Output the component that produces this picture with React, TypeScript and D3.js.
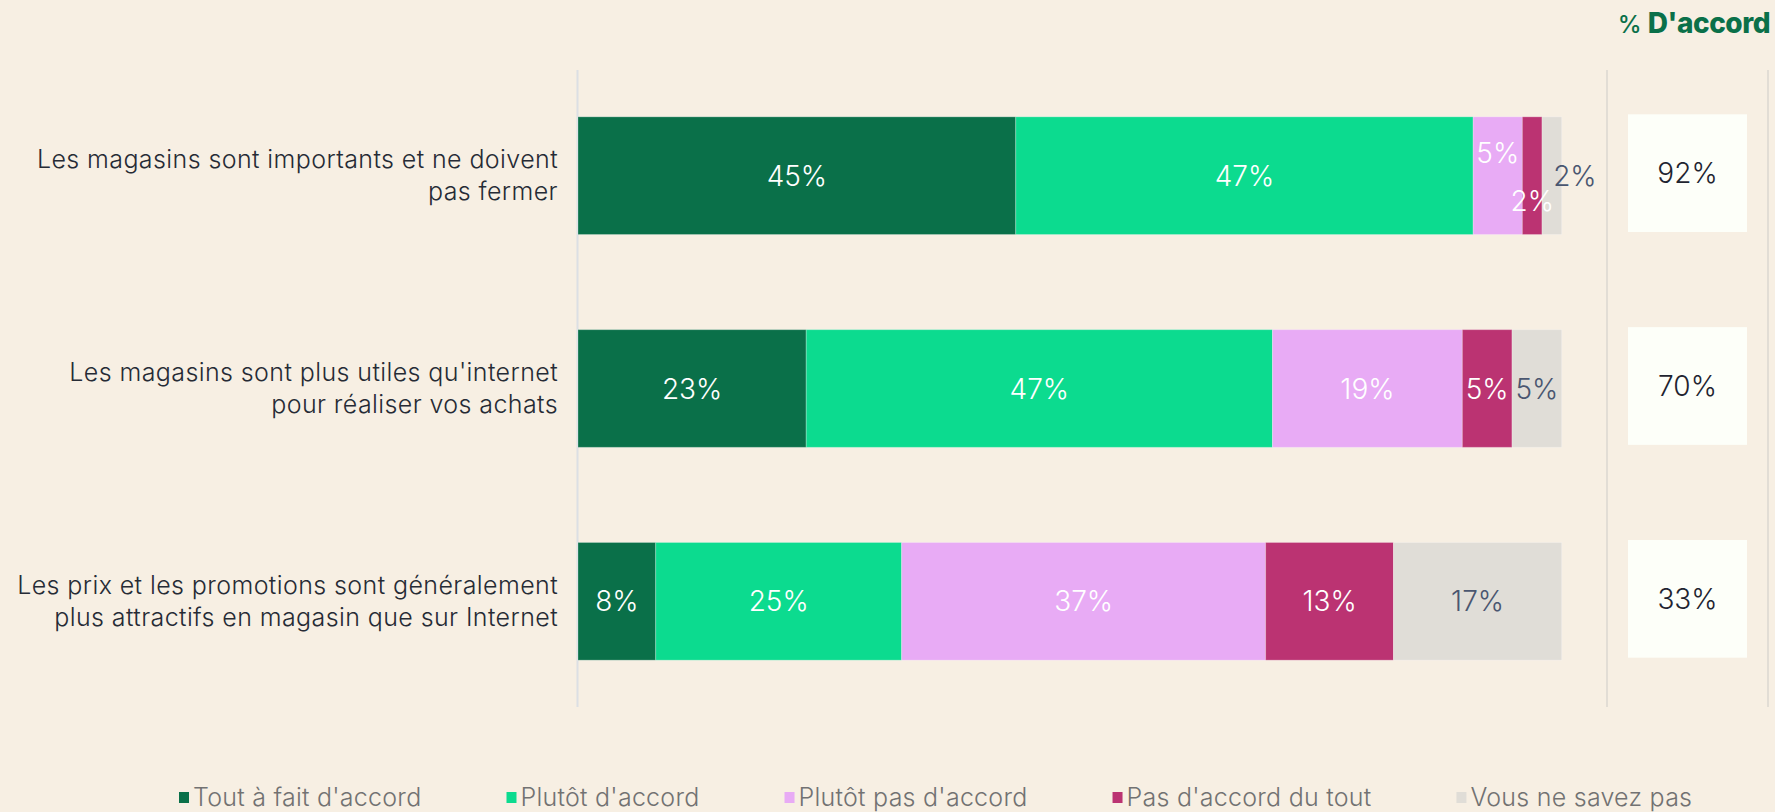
import React, { useEffect, useRef } from "react";
import * as d3 from "d3";

const categories = [
  "Les magasins sont importants et ne doivent\npas fermer",
  "Les magasins sont plus utiles qu'internet\npour réaliser vos achats",
  "Les prix et les promotions sont généralement\nplus attractifs en magasin que sur Internet",
];
const seriesNames = [
  "Tout à fait d'accord",
  "Plutôt d'accord",
  "Plutôt pas d'accord",
  "Pas d'accord du tout",
  "Vous ne savez pas",
];
const toutAFait = [44.5, 23.2, 7.9];
const plutotDaccord = [46.5, 47.4, 25.0];
const plutotPas = [5.0, 19.3, 37.0];
const pasDuTout = [2.0, 5.05, 13.0];
const neSaitPas = [2.0, 5.05, 17.1];
const dAccord = [92, 70, 33];
const seriesColors = ["#0a7049", "#0cdb8f", "#e8abf5", "#bb3372", "#e0ddd7"];

const W = 1775;
const H = 812;

export default function App() {
  const ref = useRef<SVGSVGElement>(null);
  useEffect(() => {
    document.body.style.margin = "0";
    const svg = d3.select(ref.current);
    svg.selectAll("*").remove();
    const font = "Inter, 'Noto Sans', sans-serif";

    svg.append("rect").attr("width", W).attr("height", H).attr("fill", "#f7efe3");

    const series = [toutAFait, plutotDaccord, plutotPas, pasDuTout, neSaitPas];
    const x = d3.scaleLinear().domain([0, 100]).range([578, 1561.7]);
    const y = d3
      .scaleBand<string>()
      .domain(categories)
      .range([70, 707])
      .paddingInner(0.447)
      .paddingOuter(0.22);

    // grid lines
    svg.append("line").attr("x1", 577.5).attr("x2", 577.5).attr("y1", 70).attr("y2", 707)
      .attr("stroke", "#dcdfe4").attr("stroke-width", 2);
    [1607, 1768].forEach((lx) =>
      svg.append("line").attr("x1", lx).attr("x2", lx).attr("y1", 70).attr("y2", 707)
        .attr("stroke", "#e2ddd5").attr("stroke-width", 2)
    );

    // title
    const t = svg.append("text").attr("x", 1770).attr("y", 33).attr("text-anchor", "end")
      .attr("font-family", font).attr("fill", "#0a7049");
    t.append("tspan").attr("font-size", 24).attr("font-weight", 500).text("% ");
    t.append("tspan").attr("font-size", 28).attr("font-weight", 800).attr("letter-spacing", -0.5).text("D'accord");

    const labelFs = 28;
    categories.forEach((cat, i) => {
      const y0 = y(cat)!;
      const bh = y.bandwidth();
      const cy = y0 + bh / 2;
      const vals = series.map((s) => s[i]);
      const starts = vals.map((_, k) => d3.sum(vals.slice(0, k)));
      const g = svg.append("g");
      vals.forEach((v, k) => {
        g.append("rect")
          .attr("x", x(starts[k]))
          .attr("y", y0)
          .attr("width", x(starts[k] + v) - x(starts[k]))
          .attr("height", bh)
          .attr("fill", seriesColors[k])
          .attr("stroke", "rgba(255,255,255,0.25)")
          .attr("stroke-width", 1);
      });
      // labels with simple dodge
      const fits = vals.map((v, k) => {
        const lbl = Math.round(v) + "%";
        const tw = lbl.length * 0.6 * labelFs;
        return x(starts[k] + v) - x(starts[k]) >= tw;
      });
      const dy = vals.map(() => 0);
      const dx = vals.map(() => 0);
      vals.forEach((_, k) => {
        if (!fits[k]) {
          if (k === vals.length - 1) dx[k] = 23;
          else {
            dy[k] = 25;
            if (k > 0 && fits[k - 1]) dy[k - 1] = -23;
          }
        }
      });
      vals.forEach((v, k) => {
        const cx = x(starts[k] + v / 2);
        g.append("text")
          .attr("x", cx + dx[k])
          .attr("y", cy + dy[k])
          .attr("dy", "0.36em")
          .attr("text-anchor", "middle")
          .attr("font-family", font)
          .attr("font-weight", 300)
          .attr("font-size", labelFs)
          .attr("fill", k === 4 ? "#4a5670" : "#ffffff")
          .text(Math.round(v) + "%");
      });
      // category label
      const lines = cat.split("\n");
      const ct = svg.append("text").attr("text-anchor", "end").attr("font-family", font)
        .attr("font-size", 25).attr("font-weight", 300).attr("letter-spacing", 0.4)
        .attr("fill", "#262b35");
      lines.forEach((ln, li) => {
        ct.append("tspan").attr("x", 558)
          .attr("y", cy + (li - (lines.length - 1) / 2) * 32)
          .attr("dy", "0.35em").text(ln);
      });
      // agree box
      svg.append("rect").attr("x", 1628).attr("width", 119).attr("y", y0 - 2.5).attr("height", bh)
        .attr("fill", "#fdfff9");
      svg.append("text").attr("x", 1687.5).attr("y", cy - 2.5).attr("dy", "0.36em")
        .attr("text-anchor", "middle").attr("font-family", font).attr("font-weight", 300)
        .attr("font-size", labelFs).attr("fill", "#1f2430").text(dAccord[i] + "%");
    });

    // legend
    const lg = svg.append("g");
    let lx = 179;
    seriesNames.forEach((name, k) => {
      lg.append("rect").attr("x", lx).attr("y", 792).attr("width", 10).attr("height", 11)
        .attr("fill", seriesColors[k]);
      const tt = lg.append("text").attr("x", lx + 14).attr("y", 806)
        .attr("font-family", font).attr("font-size", 25).attr("font-weight", 300)
        .attr("letter-spacing", 0.25).attr("fill", "#727272").text(name);
      const w = (tt.node() as SVGTextElement).getComputedTextLength();
      lx += 14 + w + 85;
    });
  }, []);
  return <svg ref={ref} width={W} height={H} style={{ display: "block" }} />;
}
